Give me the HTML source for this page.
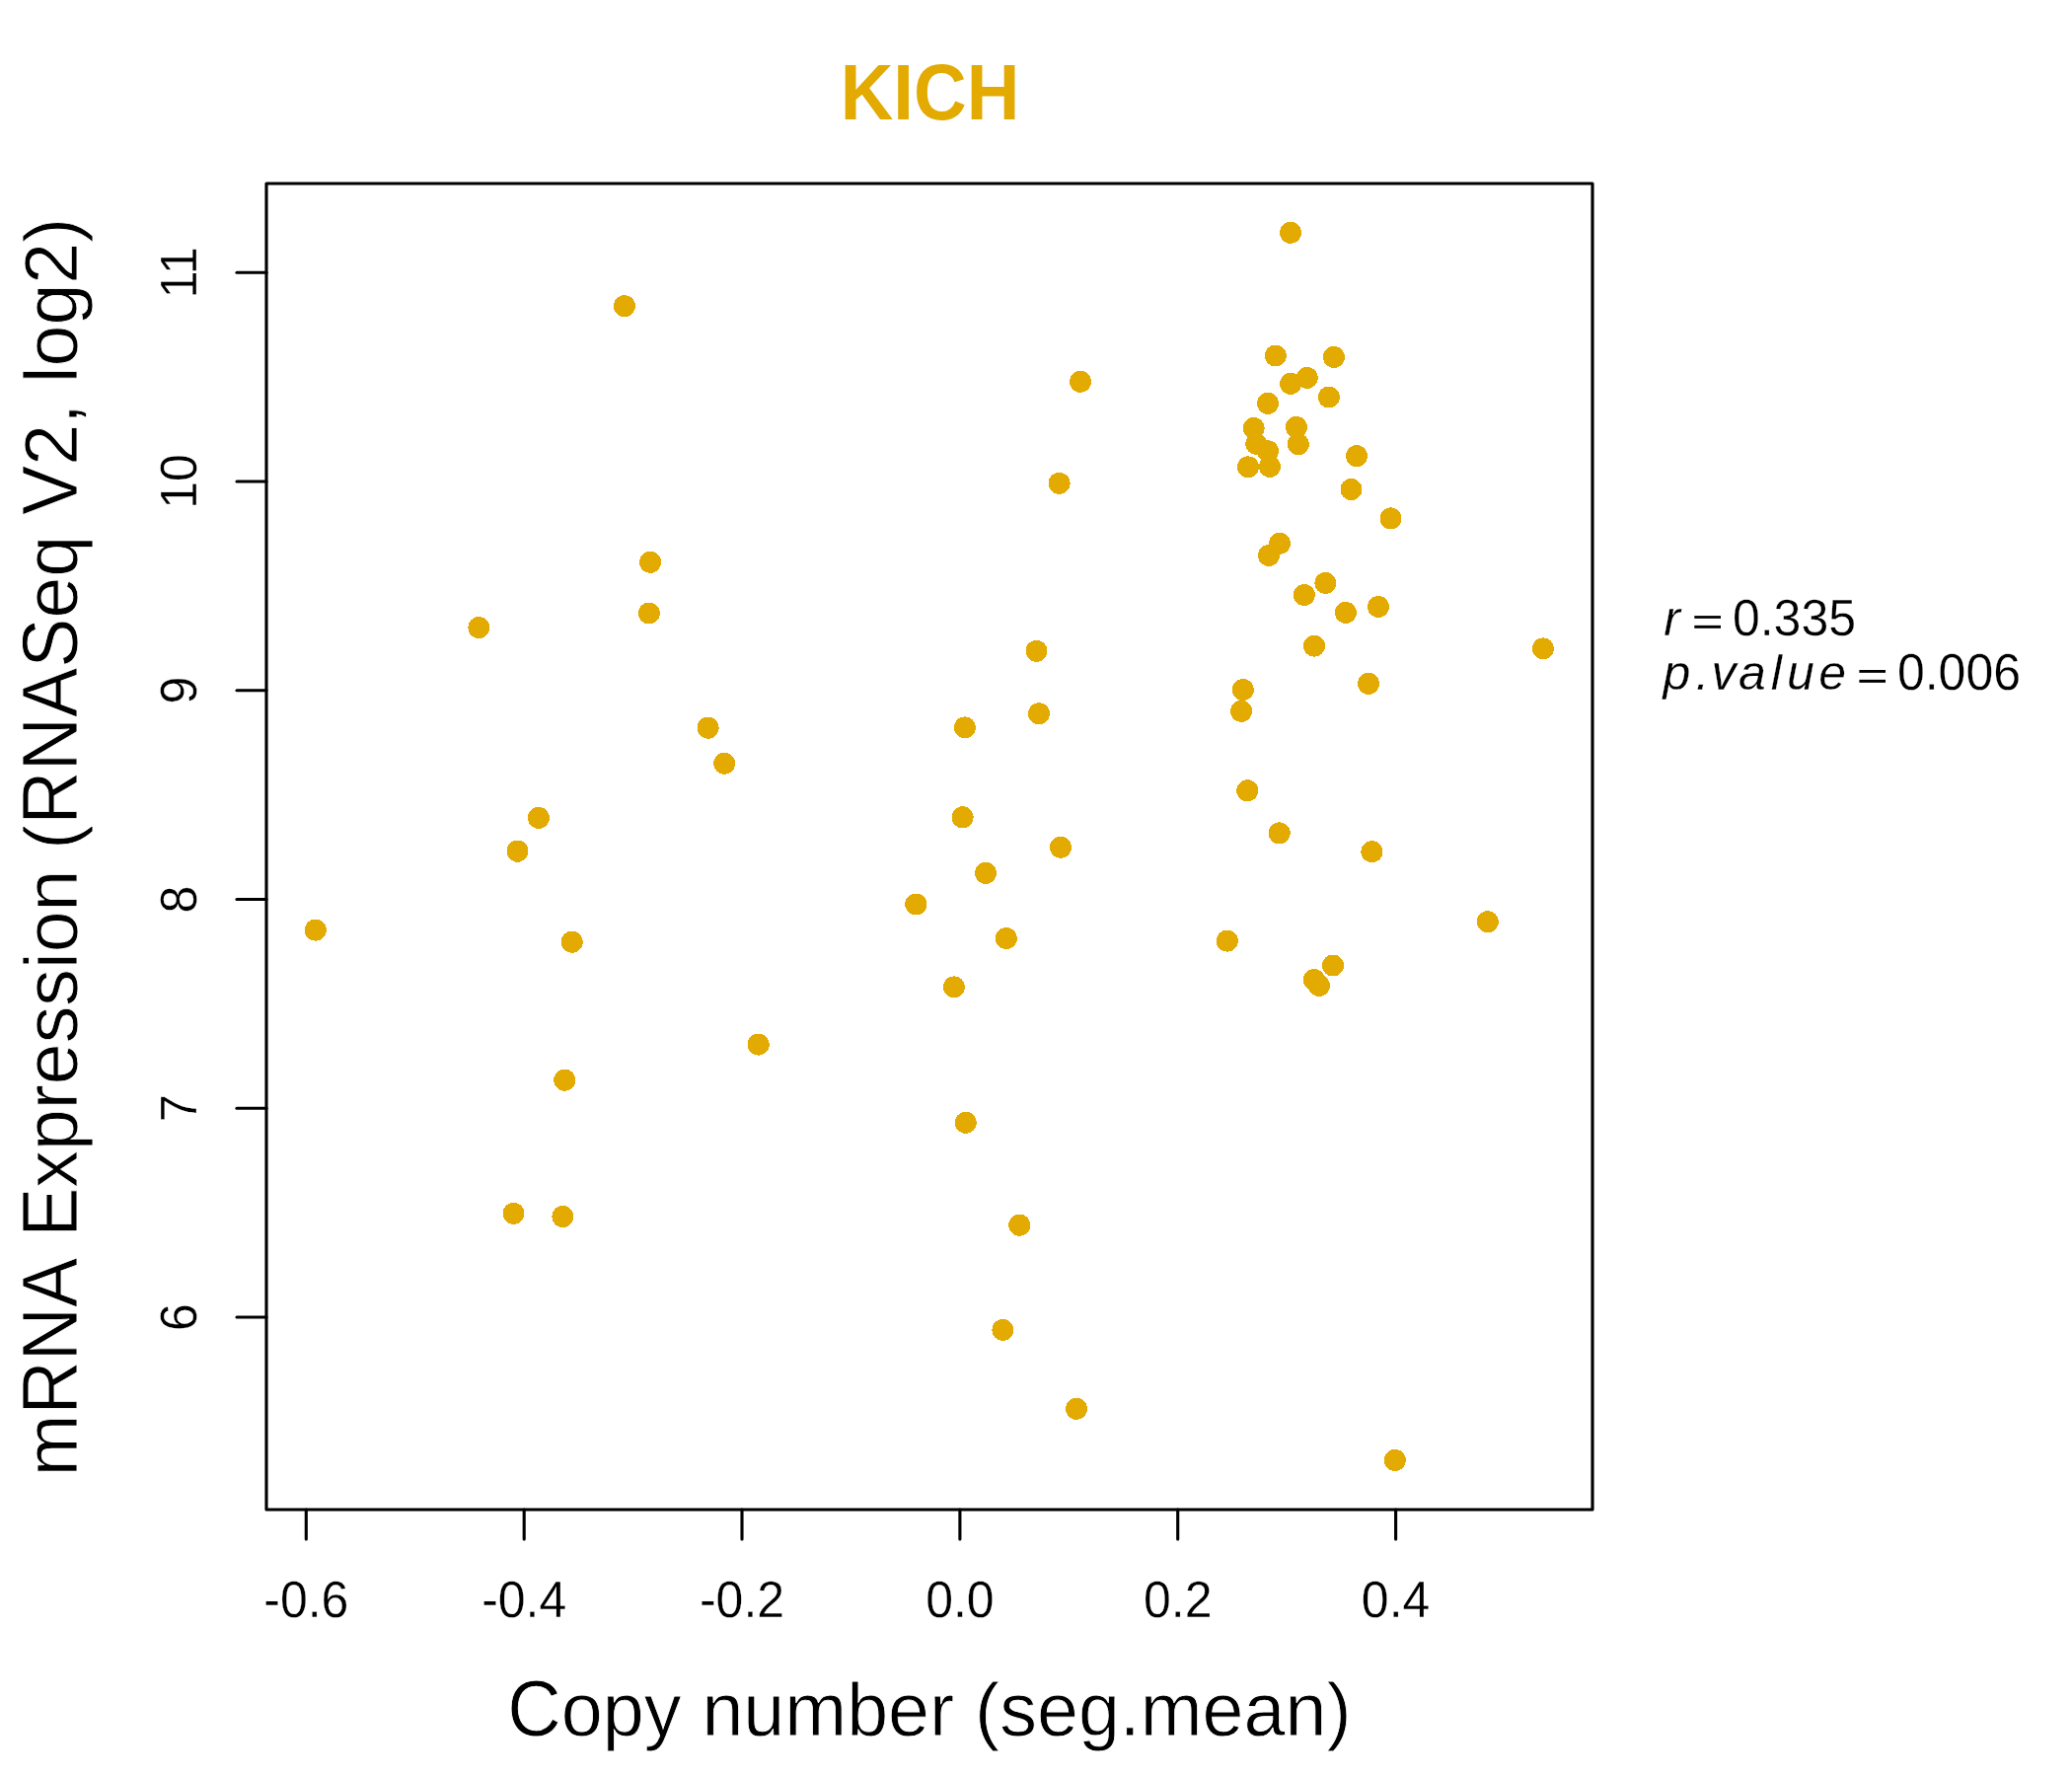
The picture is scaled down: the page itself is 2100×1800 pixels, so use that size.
<!DOCTYPE html>
<html><head><meta charset="utf-8"><title>KICH</title>
<style>
html,body{margin:0;padding:0;background:#fff;}
svg{display:block;}
text{font-family:"Liberation Sans",sans-serif;fill:#000;}
.t50{font-size:50px;stroke:#fff;stroke-width:0.3px;}
.t50i{font-size:50px;font-style:italic;stroke:#fff;stroke-width:0.3px;}
.t75x{font-size:75.3px;}
.t75y{font-size:75.5px;}
.title{font-size:74.3px;font-weight:bold;fill:#E3AA02;}
circle{fill:#E3AA02;shape-rendering:crispEdges;}
rect.eq{fill:#000;}
.thin75{stroke:#fff;stroke-width:0.8px;}
</style></head>
<body>
<svg width="2100" height="1800" viewBox="0 0 2100 1800">
<rect width="2100" height="1800" fill="#fff"/>
<rect x="270" y="186" width="1344" height="1344" fill="none" stroke="#000" stroke-width="3.125" stroke-linejoin="round"/>
<line x1="240" y1="1335.0" x2="270" y2="1335.0" stroke="#000" stroke-width="3.125" stroke-linecap="round"/>
<text transform="translate(198.5,1335.0) rotate(-90) scale(1,1.05)" text-anchor="middle" class="t50">6</text>
<line x1="240" y1="1123.2" x2="270" y2="1123.2" stroke="#000" stroke-width="3.125" stroke-linecap="round"/>
<text transform="translate(198.5,1123.2) rotate(-90) scale(1,1.05)" text-anchor="middle" class="t50">7</text>
<line x1="240" y1="911.5" x2="270" y2="911.5" stroke="#000" stroke-width="3.125" stroke-linecap="round"/>
<text transform="translate(198.5,911.5) rotate(-90) scale(1,1.05)" text-anchor="middle" class="t50">8</text>
<line x1="240" y1="699.7" x2="270" y2="699.7" stroke="#000" stroke-width="3.125" stroke-linecap="round"/>
<text transform="translate(198.5,699.7) rotate(-90) scale(1,1.05)" text-anchor="middle" class="t50">9</text>
<line x1="240" y1="488.0" x2="270" y2="488.0" stroke="#000" stroke-width="3.125" stroke-linecap="round"/>
<text transform="translate(198.5,488.0) rotate(-90) scale(1,1.05)" text-anchor="middle" class="t50">10</text>
<line x1="240" y1="276.2" x2="270" y2="276.2" stroke="#000" stroke-width="3.125" stroke-linecap="round"/>
<text transform="translate(198.5,276.2) rotate(-90) scale(1,1.05)" text-anchor="middle" class="t50">11</text>
<line x1="310.3" y1="1530" x2="310.3" y2="1560" stroke="#000" stroke-width="3.125" stroke-linecap="round"/>
<text transform="translate(310.3,1638.5) scale(1,1.05)" text-anchor="middle" class="t50">-0.6</text>
<line x1="531.2" y1="1530" x2="531.2" y2="1560" stroke="#000" stroke-width="3.125" stroke-linecap="round"/>
<text transform="translate(531.2,1638.5) scale(1,1.05)" text-anchor="middle" class="t50">-0.4</text>
<line x1="752.0" y1="1530" x2="752.0" y2="1560" stroke="#000" stroke-width="3.125" stroke-linecap="round"/>
<text transform="translate(752.0,1638.5) scale(1,1.05)" text-anchor="middle" class="t50">-0.2</text>
<line x1="972.9" y1="1530" x2="972.9" y2="1560" stroke="#000" stroke-width="3.125" stroke-linecap="round"/>
<text transform="translate(972.9,1638.5) scale(1,1.05)" text-anchor="middle" class="t50">0.0</text>
<line x1="1193.7" y1="1530" x2="1193.7" y2="1560" stroke="#000" stroke-width="3.125" stroke-linecap="round"/>
<text transform="translate(1193.7,1638.5) scale(1,1.05)" text-anchor="middle" class="t50">0.2</text>
<line x1="1414.6" y1="1530" x2="1414.6" y2="1560" stroke="#000" stroke-width="3.125" stroke-linecap="round"/>
<text transform="translate(1414.6,1638.5) scale(1,1.05)" text-anchor="middle" class="t50">0.4</text>
<circle cx="632.9" cy="310.2" r="11.0"/>
<circle cx="659.1" cy="569.8" r="11.0"/>
<circle cx="657.9" cy="621.5" r="11.0"/>
<circle cx="485.4" cy="636.1" r="11.0"/>
<circle cx="1095.0" cy="386.8" r="11.0"/>
<circle cx="1073.6" cy="489.8" r="11.0"/>
<circle cx="1050.5" cy="659.8" r="11.0"/>
<circle cx="1308.0" cy="235.8" r="11.0"/>
<circle cx="1292.9" cy="360.5" r="11.0"/>
<circle cx="1351.9" cy="361.9" r="11.0"/>
<circle cx="1324.7" cy="382.9" r="11.0"/>
<circle cx="1308.1" cy="388.9" r="11.0"/>
<circle cx="1346.9" cy="402.5" r="11.0"/>
<circle cx="1285.0" cy="408.9" r="11.0"/>
<circle cx="1270.6" cy="434.0" r="11.0"/>
<circle cx="1313.9" cy="432.9" r="11.0"/>
<circle cx="1273.3" cy="449.8" r="11.0"/>
<circle cx="1285.0" cy="457.3" r="11.0"/>
<circle cx="1315.8" cy="450.2" r="11.0"/>
<circle cx="1265.0" cy="473.3" r="11.0"/>
<circle cx="1287.0" cy="473.0" r="11.0"/>
<circle cx="1375.0" cy="462.2" r="11.0"/>
<circle cx="1369.5" cy="496.0" r="11.0"/>
<circle cx="1409.5" cy="525.4" r="11.0"/>
<circle cx="1297.0" cy="550.8" r="11.0"/>
<circle cx="1286.0" cy="563.0" r="11.0"/>
<circle cx="1343.4" cy="590.9" r="11.0"/>
<circle cx="1321.8" cy="603.0" r="11.0"/>
<circle cx="1397.0" cy="615.0" r="11.0"/>
<circle cx="1363.9" cy="620.9" r="11.0"/>
<circle cx="1332.0" cy="654.6" r="11.0"/>
<circle cx="1563.9" cy="657.4" r="11.0"/>
<circle cx="717.6" cy="737.7" r="11.0"/>
<circle cx="734.2" cy="773.7" r="11.0"/>
<circle cx="545.9" cy="828.9" r="11.0"/>
<circle cx="524.5" cy="862.7" r="11.0"/>
<circle cx="319.8" cy="942.6" r="11.0"/>
<circle cx="579.7" cy="954.7" r="11.0"/>
<circle cx="572.3" cy="1094.7" r="11.0"/>
<circle cx="977.9" cy="737.4" r="11.0"/>
<circle cx="1053.0" cy="723.3" r="11.0"/>
<circle cx="975.6" cy="828.3" r="11.0"/>
<circle cx="1075.0" cy="858.7" r="11.0"/>
<circle cx="999.0" cy="884.9" r="11.0"/>
<circle cx="928.3" cy="916.5" r="11.0"/>
<circle cx="1019.8" cy="951.1" r="11.0"/>
<circle cx="966.9" cy="1000.4" r="11.0"/>
<circle cx="768.7" cy="1058.6" r="11.0"/>
<circle cx="1259.8" cy="699.1" r="11.0"/>
<circle cx="1258.1" cy="720.8" r="11.0"/>
<circle cx="1387.0" cy="692.9" r="11.0"/>
<circle cx="1264.3" cy="801.3" r="11.0"/>
<circle cx="1296.7" cy="844.4" r="11.0"/>
<circle cx="1390.4" cy="863.2" r="11.0"/>
<circle cx="1507.8" cy="934.2" r="11.0"/>
<circle cx="1243.8" cy="953.6" r="11.0"/>
<circle cx="1351.0" cy="978.5" r="11.0"/>
<circle cx="1331.9" cy="993.0" r="11.0"/>
<circle cx="1337.0" cy="999.0" r="11.0"/>
<circle cx="520.5" cy="1229.9" r="11.0"/>
<circle cx="570.4" cy="1233.0" r="11.0"/>
<circle cx="978.7" cy="1137.8" r="11.0"/>
<circle cx="1033.3" cy="1241.7" r="11.0"/>
<circle cx="1016.4" cy="1347.9" r="11.0"/>
<circle cx="1091.0" cy="1427.8" r="11.0"/>
<circle cx="1413.8" cy="1479.9" r="11.0"/>
<text transform="translate(942.5,120.9) scale(1,1.07)" text-anchor="middle" class="title">KICH</text>
<text transform="translate(514.37,1758.8) scale(1,1.065)" style="font-size:75.43px" class="thin75">C</text>
<text transform="translate(568.84,1758.8) scale(1,1.0)" style="font-size:75.43px" class="thin75">o</text>
<text transform="translate(610.79,1758.8) scale(1,1.0)" style="font-size:75.43px" class="thin75">p</text>
<text transform="translate(652.74,1758.8) scale(1,1.0)" style="font-size:75.43px" class="thin75">y</text>
<text transform="translate(711.41,1758.8) scale(1,1.0)" style="font-size:75.43px" class="thin75">n</text>
<text transform="translate(753.35,1758.8) scale(1,1.0)" style="font-size:75.43px" class="thin75">u</text>
<text transform="translate(795.30,1758.8) scale(1,1.0)" style="font-size:75.43px" class="thin75">m</text>
<text transform="translate(858.13,1758.8) scale(1,1.0)" style="font-size:75.43px" class="thin75">b</text>
<text transform="translate(900.08,1758.8) scale(1,1.0)" style="font-size:75.43px" class="thin75">e</text>
<text transform="translate(942.03,1758.8) scale(1,1.0)" style="font-size:75.43px" class="thin75">r</text>
<text transform="translate(988.10,1758.8) scale(1,1.0)" style="font-size:75.43px" class="thin75">(</text>
<text transform="translate(1013.22,1758.8) scale(1,1.0)" style="font-size:75.43px" class="thin75">s</text>
<text transform="translate(1050.93,1758.8) scale(1,1.0)" style="font-size:75.43px" class="thin75">e</text>
<text transform="translate(1092.88,1758.8) scale(1,1.0)" style="font-size:75.43px" class="thin75">g</text>
<text transform="translate(1134.83,1758.8) scale(1,1.0)" style="font-size:75.43px" class="thin75">.</text>
<text transform="translate(1155.78,1758.8) scale(1,1.0)" style="font-size:75.43px" class="thin75">m</text>
<text transform="translate(1218.61,1758.8) scale(1,1.0)" style="font-size:75.43px" class="thin75">e</text>
<text transform="translate(1260.56,1758.8) scale(1,1.0)" style="font-size:75.43px" class="thin75">a</text>
<text transform="translate(1302.51,1758.8) scale(1,1.0)" style="font-size:75.43px" class="thin75">n</text>
<text transform="translate(1344.46,1758.8) scale(1,1.0)" style="font-size:75.43px" class="thin75">)</text>
<text transform="translate(78.4,1496.30) rotate(-90) scale(1,1.0)" style="font-size:75.25px" class="thin75">m</text>
<text transform="translate(78.4,1433.62) rotate(-90) scale(1,1.065)" style="font-size:75.25px" class="thin75">R</text>
<text transform="translate(78.4,1379.28) rotate(-90) scale(1,1.065)" style="font-size:75.25px" class="thin75">N</text>
<text transform="translate(78.4,1324.94) rotate(-90) scale(1,1.065)" style="font-size:75.25px" class="thin75">A</text>
<text transform="translate(78.4,1253.84) rotate(-90) scale(1,1.065)" style="font-size:75.25px" class="thin75">E</text>
<text transform="translate(78.4,1203.65) rotate(-90) scale(1,1.0)" style="font-size:75.25px" class="thin75">x</text>
<text transform="translate(78.4,1166.03) rotate(-90) scale(1,1.0)" style="font-size:75.25px" class="thin75">p</text>
<text transform="translate(78.4,1124.18) rotate(-90) scale(1,1.0)" style="font-size:75.25px" class="thin75">r</text>
<text transform="translate(78.4,1099.13) rotate(-90) scale(1,1.0)" style="font-size:75.25px" class="thin75">e</text>
<text transform="translate(78.4,1057.28) rotate(-90) scale(1,1.0)" style="font-size:75.25px" class="thin75">s</text>
<text transform="translate(78.4,1019.66) rotate(-90) scale(1,1.0)" style="font-size:75.25px" class="thin75">s</text>
<text transform="translate(78.4,982.03) rotate(-90) scale(1,1.0)" style="font-size:75.25px" class="thin75">i</text>
<text transform="translate(78.4,965.32) rotate(-90) scale(1,1.0)" style="font-size:75.25px" class="thin75">o</text>
<text transform="translate(78.4,923.47) rotate(-90) scale(1,1.0)" style="font-size:75.25px" class="thin75">n</text>
<text transform="translate(78.4,860.71) rotate(-90) scale(1,1.0)" style="font-size:75.25px" class="thin75">(</text>
<text transform="translate(78.4,835.66) rotate(-90) scale(1,1.065)" style="font-size:75.25px" class="thin75">R</text>
<text transform="translate(78.4,781.32) rotate(-90) scale(1,1.065)" style="font-size:75.25px" class="thin75">N</text>
<text transform="translate(78.4,726.98) rotate(-90) scale(1,1.065)" style="font-size:75.25px" class="thin75">A</text>
<text transform="translate(78.4,676.79) rotate(-90) scale(1,1.065)" style="font-size:75.25px" class="thin75">S</text>
<text transform="translate(78.4,626.60) rotate(-90) scale(1,1.0)" style="font-size:75.25px" class="thin75">e</text>
<text transform="translate(78.4,584.75) rotate(-90) scale(1,1.0)" style="font-size:75.25px" class="thin75">q</text>
<text transform="translate(78.4,522.00) rotate(-90) scale(1,1.065)" style="font-size:75.25px" class="thin75">V</text>
<text transform="translate(78.4,471.81) rotate(-90) scale(1,1.0)" style="font-size:75.25px" class="thin75">2</text>
<text transform="translate(78.4,429.96) rotate(-90) scale(1,1.0)" style="font-size:75.25px" class="thin75">,</text>
<text transform="translate(78.4,388.15) rotate(-90) scale(1,1.0)" style="font-size:75.25px" class="thin75">l</text>
<text transform="translate(78.4,371.44) rotate(-90) scale(1,1.0)" style="font-size:75.25px" class="thin75">o</text>
<text transform="translate(78.4,329.59) rotate(-90) scale(1,1.0)" style="font-size:75.25px" class="thin75">g</text>
<text transform="translate(78.4,287.74) rotate(-90) scale(1,1.0)" style="font-size:75.25px" class="thin75">2</text>
<text transform="translate(78.4,245.89) rotate(-90) scale(1,1.0)" style="font-size:75.25px" class="thin75">)</text>
<text transform="translate(1686.3,644.3)" class="t50i">r</text>
<rect x="1717.3" y="624.1" width="26.7" height="2.75"/><rect x="1717.3" y="633.85" width="26.7" height="2.95"/>
<text transform="translate(1755.9,644.3) scale(1,1.05)" class="t50">0.335</text>
<text transform="translate(1685.4,699.2)" class="t50i">p</text>
<text transform="translate(1718.4,699.2)" class="t50i">.</text>
<text transform="translate(1734.4,699.2)" class="t50i">v</text>
<text transform="translate(1761.9,699.2)" class="t50i">a</text>
<text transform="translate(1794.7,699.2)" class="t50i">l</text>
<text transform="translate(1810.9,699.2)" class="t50i">u</text>
<text transform="translate(1843.2,699.2)" class="t50i">e</text>
<rect x="1884.4" y="679.0" width="26.6" height="2.85"/><rect x="1884.4" y="688.85" width="26.6" height="3.0"/>
<text transform="translate(1922.9,699.2) scale(1,1.05)" class="t50">0.006</text>
</svg>
</body></html>
